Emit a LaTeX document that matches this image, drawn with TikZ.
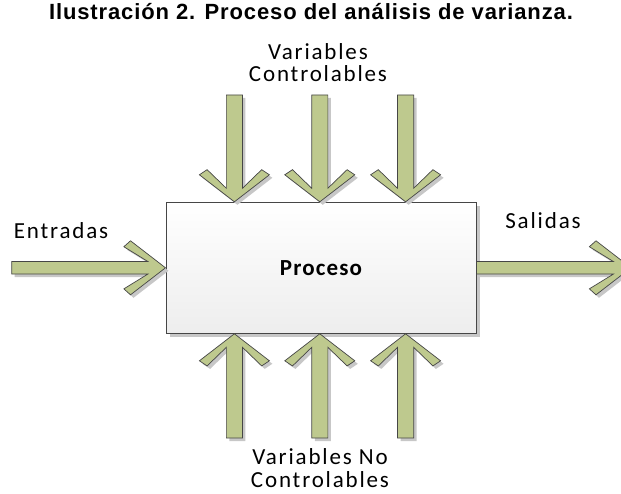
\documentclass[tikz,border=0pt]{standalone}
\usepackage{fontspec}
\newfontfamily\lblfont{Carlito}[LetterSpace=8]
\newfontfamily\procfont{Carlito}[LetterSpace=5]
\newfontfamily\ttlfont{Liberation Sans}[LetterSpace=4]
\usetikzlibrary{calc,shadows,positioning}
\definecolor{arrowgreen}{RGB}{190,201,142}
\definecolor{edgegray}{RGB}{70,70,70}

% block arrow from tail #1 to tip #2, turned by #3
\newcommand{\blockarrow}[3]{%
\draw[barrow]
    ([shift={(#1)},xscale=35,yscale=27,rotate=#3]0,0.23)
 -- ([shift={(#2)},xscale=35,yscale=27,rotate=#3]-0.5,0.23)
 -- ([shift={(#2)},xscale=35,yscale=27,rotate=#3]-1.19,0.78)
 -- ([shift={(#2)},xscale=35,yscale=27,rotate=#3]-1,1)
 -- ([shift={(#2)},xscale=35,yscale=27,rotate=#3]0,0)
 -- ([shift={(#2)},xscale=35,yscale=27,rotate=#3]-1,-1)
 -- ([shift={(#2)},xscale=35,yscale=27,rotate=#3]-1.19,-0.78)
 -- ([shift={(#2)},xscale=35,yscale=27,rotate=#3]-0.5,-0.23)
 -- ([shift={(#1)},xscale=35,yscale=27,rotate=#3]0,-0.23)
 -- cycle;}

\begin{document}
\begin{tikzpicture}[x=1pt,y=1pt,
    lbl/.style={font=\lblfont\fontsize{23}{22.5}\selectfont, align=center, inner sep=0pt},
    barrow/.style={fill=arrowgreen, draw=edgegray, line width=0.7pt,
        drop shadow={shadow xshift=3pt, shadow yshift=-3pt, fill=black!22, opacity=1}},
    procbox/.style={draw=edgegray, line width=1pt, top color=white, bottom color=black!7,
        minimum width=310pt, minimum height=131pt, inner sep=0pt,
        font=\procfont\bfseries\fontsize{23}{23}\selectfont,
        drop shadow={shadow xshift=4pt, shadow yshift=-4pt, fill=black!22, opacity=1}}]
\useasboundingbox (0,0) rectangle (621,493);
\clip (0,0) rectangle (621,493);
% title
\node[font=\ttlfont\bfseries\fontsize{22}{22}\selectfont, anchor=base] (title) at (311,473)
    {Ilustración 2. Proceso del análisis de varianza.};
% process box
\node[procbox] (proc) at (321,225.2) {Proceso};
% labels
\node[lbl, anchor=base] (ctrl) at (318,411.3) {Variables\\Controlables};
\node[lbl, anchor=base] (noctrl) at (320,6) {Variables No\\Controlables};
\node[lbl, anchor=base] (entr) at (61,254) {Entradas};
\node[lbl, anchor=base] (sal) at (543,264) {Salidas};
% arrow tails
\coordinate (c1) at (234.4,398);
\coordinate (c2) at (319.8,398);
\coordinate (c3) at (405.6,398);
\coordinate (n1) at (234.4,55);
\coordinate (n2) at (319.8,55);
\coordinate (n3) at (405.6,55);
\coordinate (in) at (11.7,225.2);
\coordinate (out) at (631,225.2);
% controllable variables
\blockarrow{c1}{c1 |- proc.north}{-90}
\blockarrow{c2}{c2 |- proc.north}{-90}
\blockarrow{c3}{c3 |- proc.north}{-90}
% non controllable variables
\blockarrow{n1}{n1 |- proc.south}{90}
\blockarrow{n2}{n2 |- proc.south}{90}
\blockarrow{n3}{n3 |- proc.south}{90}
% input and output
\blockarrow{in}{proc.west}{0}
\blockarrow{proc.east}{out}{0}
\end{tikzpicture}
\end{document}
